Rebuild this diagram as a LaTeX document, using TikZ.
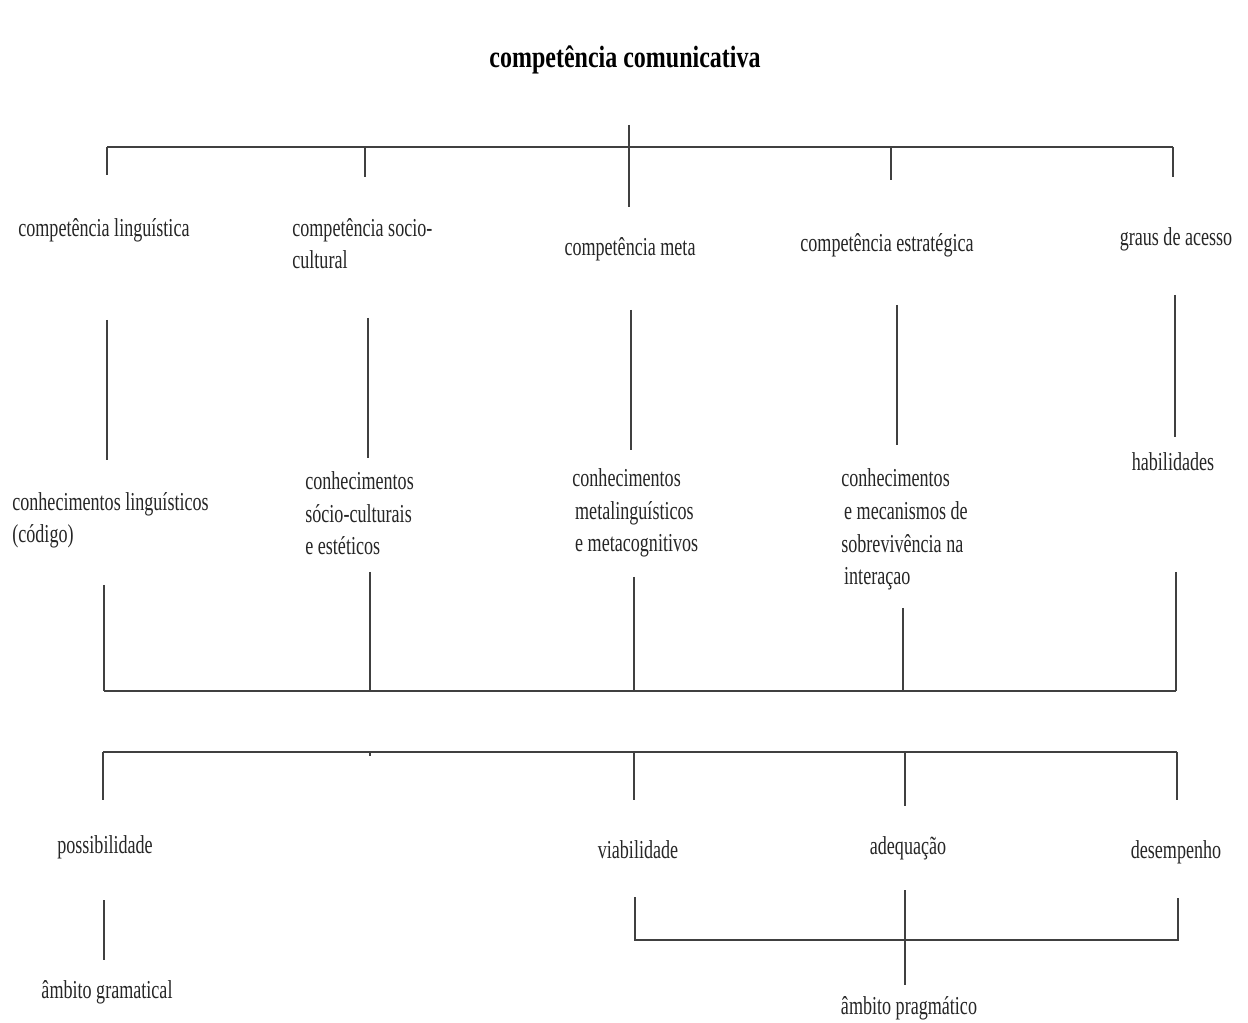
\documentclass[tikz,border=0pt]{standalone}
\usepackage{fontspec}
\setmainfont[FakeStretch=0.7]{Liberation Serif}
\newfontfamily\headfont[FakeStretch=0.78]{Liberation Serif}
\begin{document}
\begin{tikzpicture}[x=0.02cm,y=-0.02cm,
  label/.style={inner sep=0pt,font=\fontsize{14.7pt}{18.7pt}\selectfont,text=black!85},
  lbl/.style={label,anchor=base},
  lblw/.style={label,anchor=base west,align=left},
  wire/.style={draw=black!75,line width=0.9pt}]
\fill[white] (0,0) rectangle (1248,1023);
\useasboundingbox (0,0) rectangle (1248,1023);

% title
\node[inner sep=0pt,anchor=base,font=\headfont\bfseries\fontsize{17.5pt}{20pt}\selectfont] (root) at (625,68) {competência comunicativa};

% first level (multi-line labels are placed by their last baseline)
\node[lblw] (cl) at (18,237) {competência linguística};
\node[lblw] (cs) at (292,269) {competência socio-\\cultural};
\node[lbl] (cm) at (630,256) {competência meta};
\node[lbl] (ce) at (887,252) {competência estratégica};
\node[lbl] (ga) at (1176,246) {graus de acesso};

% second level
\node[lblw] (kl) at (12,543) {conhecimentos linguísticos\\(código)};
\node[lblw] (ks) at (305,555) {conhecimentos\\sócio-culturais\\e estéticos};
\node[lblw] (km) at (572,552) {conhecimentos\\\hspace*{4\pgflinewidth}metalinguísticos\\\hspace*{4\pgflinewidth}e metacognitivos};
\node[lblw] (ke) at (841,585) {conhecimentos\\\hspace*{4\pgflinewidth}e mecanismos de\\sobrevivência na\\\hspace*{4\pgflinewidth}interaçao};
\node[lbl] (hb) at (1173,471) {habilidades};

% third level
\node[lbl] (po) at (105,853) {possibilidade};
\node[lbl] (vi) at (638,858) {viabilidade};
\node[lbl] (ad) at (908,854) {adequação};
\node[lbl] (de) at (1176,858) {desempenho};

% fourth level
\node[lbl] (ag) at (107,998) {âmbito gramatical};
\node[lbl] (ap) at (909,1014) {âmbito pragmático};

% junction points of the upper fork
\coordinate (r0) at (629,125);
\coordinate (r1) at (629,207);
\coordinate (t1) at (107,147);
\coordinate (t2) at (365,147);
\coordinate (t3) at (629,147);
\coordinate (t4) at (891,147);
\coordinate (t5) at (1173,147);
\draw[wire] (t1) -- (t5);
\draw[wire] (r0) -- (r1);
\draw[wire] (t1) -- (107,175);
\draw[wire] (t2) -- (365,177);
\draw[wire] (t4) -- (891,180);
\draw[wire] (t5) -- (1173,177);

% links between first and second level
\coordinate (a1) at (107,320); \coordinate (b1) at (107,460);
\coordinate (a2) at (368,318); \coordinate (b2) at (368,458);
\coordinate (a3) at (631,310); \coordinate (b3) at (631,450);
\coordinate (a4) at (897,305); \coordinate (b4) at (897,445);
\coordinate (a5) at (1175,295); \coordinate (b5) at (1175,437);
\foreach \i in {1,...,5} {\draw[wire] (a\i) -- (b\i);}

% lower gathering bar
\coordinate (g1) at (104,691);
\coordinate (g2) at (370,691);
\coordinate (g3) at (634,691);
\coordinate (g4) at (903,691);
\coordinate (g5) at (1176,691);
\draw[wire] (g1) -- (g5);
\draw[wire] (104,585) -- (g1);
\draw[wire] (370,572) -- (g2);
\draw[wire] (634,577) -- (g3);
\draw[wire] (903,608) -- (g4);
\draw[wire] (1176,572) -- (g5);

% lower distributing bar
\coordinate (d1) at (103,752);
\coordinate (d2) at (370,752);
\coordinate (d3) at (634,752);
\coordinate (d4) at (905,752);
\coordinate (d5) at (1177,752);
\draw[wire] (d1) -- (d5);
\draw[wire] (d2) -- (370,756);
\draw[wire] (d1) -- (103,800);
\draw[wire] (d3) -- (634,800);
\draw[wire] (d4) -- (905,806);
\draw[wire] (d5) -- (1177,800);

% grammatical scope
\draw[wire] (104,900) -- (104,960);

% pragmatic scope
\coordinate (p1) at (635,940);
\coordinate (p2) at (905,940);
\coordinate (p3) at (1178,940);
\draw[wire] (635,897) -- (p1) -- (p3) -- (1178,898);
\draw[wire] (905,890) -- (905,985);
\end{tikzpicture}
\end{document}
